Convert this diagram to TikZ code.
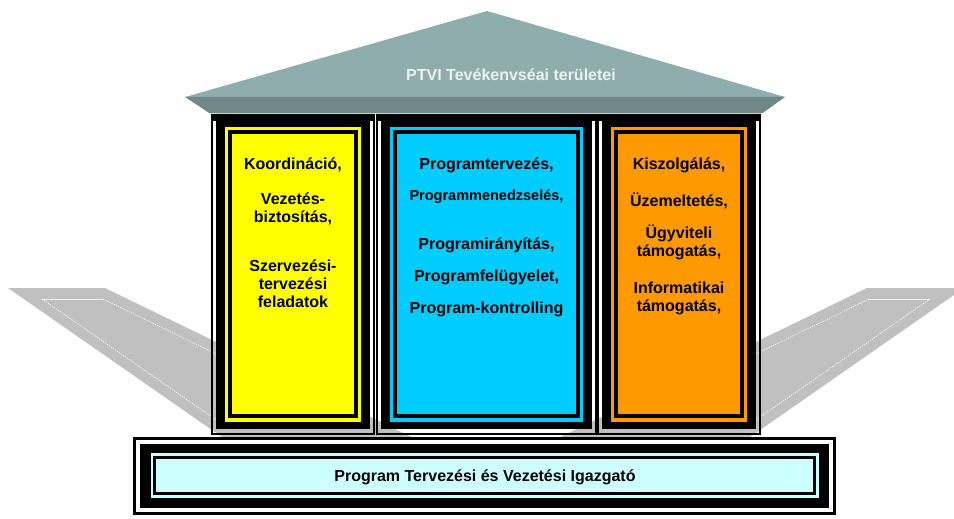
\documentclass[tikz,border=0pt]{standalone}
\usepackage{fontspec}
\setmainfont{Liberation Sans}
\definecolor{roofc}{RGB}{143,173,173}
\definecolor{bandc}{RGB}{112,136,136}
\definecolor{floorc}{RGB}{192,192,192}
\definecolor{lcyan}{RGB}{204,255,255}
\definecolor{pcyan}{RGB}{0,204,255}
\definecolor{porange}{RGB}{255,153,0}
\definecolor{pyellow}{RGB}{255,255,0}
\definecolor{rooftext}{RGB}{236,242,242}
\newcommand\mypillar[3]{%
  \fill[black] (#1,114) rectangle (#2,121);
  \draw[black,line width=2] ({#1+1},115) rectangle ({#2-1},434);
  \fill[black] ({#1+5},116) rectangle ({#2-5},429);
  \fill[#3] ({#1+14},127) rectangle ({#2-14},422);
  \filldraw[fill=#3,draw=black,line width=4] ({#1+19},132) rectangle ({#2-19},416);
}
\tikzset{
  lbl/.style={anchor=base,inner sep=0pt,font=\fontsize{16}{18}\selectfont\bfseries},
  lblsmall/.style={lbl,font=\fontsize{14.5}{17}\selectfont\bfseries},
  dots/.style={white,line width=0.7,dash pattern=on 1.2pt off 1.2pt},
  topline/.style={white,line width=0.7,opacity=0.8}
}
\begin{document}
\begin{tikzpicture}[x=1pt,y=-1pt]
\useasboundingbox (0,0) rectangle (954,519);
\fill[white] (0,0) rectangle (954,519);
% floors
\fill[floorc] (8,288) -- (105,288) -- (411.6,437) -- (222,437) -- cycle;
\fill[floorc] (964,288) -- (867,288) -- (560.4,437) -- (750,437) -- cycle;
\draw[topline] (42,299) -- (103,299);
\draw[dots] (42,299) -- (217,420.5);
\draw[dots] (103,299) -- (217,354.4);
\draw[topline] (930,299) -- (869,299);
\draw[dots] (930,299) -- (755,420.5);
\draw[dots] (869,299) -- (755,354.4);
% roof
\fill[roofc] (185,97) -- (487,11) -- (785,97) -- cycle;
\fill[bandc] (185,97) -- (785,97) -- (762,113.5) -- (210,113.5) -- cycle;
\node[lbl,text=rooftext] (roof) at (511,80.5) {PTVI Tevékenvséai területei};
% pillars
\mypillar{211}{375}{pyellow}
\mypillar{376}{597}{pcyan}
\mypillar{597}{761}{porange}
% base
\filldraw[fill=white,draw=black,line width=3] (134.5,438.5) rectangle (834.5,513.5);
\fill[black] (140,444) rectangle (829,508);
\fill[lcyan] (151,453) rectangle (819,498);
\filldraw[fill=lcyan,draw=black,line width=3] (154.5,457.5) rectangle (814.5,493.5);
\node[lbl] (base) at (485,481) {Program Tervezési és Vezetési Igazgató};
% left pillar texts
\node[lbl] (k1) at (293,169) {Koordináció,};
\node[lbl] (k2) at (293,204) {Vezetés-};
\node[lbl] (k3) at (293,222) {biztosítás,};
\node[lbl] (k4) at (293,271) {Szervezési-};
\node[lbl] (k5) at (293,289) {tervezési};
\node[lbl] (k6) at (293,307) {feladatok};
% middle pillar texts
\node[lbl] (m1) at (486.5,169) {Programtervezés,};
\node[lblsmall] (m2) at (486.5,200.5) {Programmenedzselés,};
\node[lbl] (m3) at (486.5,249) {Programirányítás,};
\node[lbl] (m4) at (486.5,281) {Programfelügyelet,};
\node[lbl] (m5) at (486.5,313) {Program-kontrolling};
% right pillar texts
\node[lbl] (r1) at (679,169) {Kiszolgálás,};
\node[lbl] (r2) at (679,206) {Üzemeltetés,};
\node[lbl] (r3) at (679,238.5) {Ügyviteli};
\node[lbl] (r4) at (679,256.5) {támogatás,};
\node[lbl] (r5) at (679,293.5) {Informatikai};
\node[lbl] (r6) at (679,311.5) {támogatás,};
\end{tikzpicture}
\end{document}
